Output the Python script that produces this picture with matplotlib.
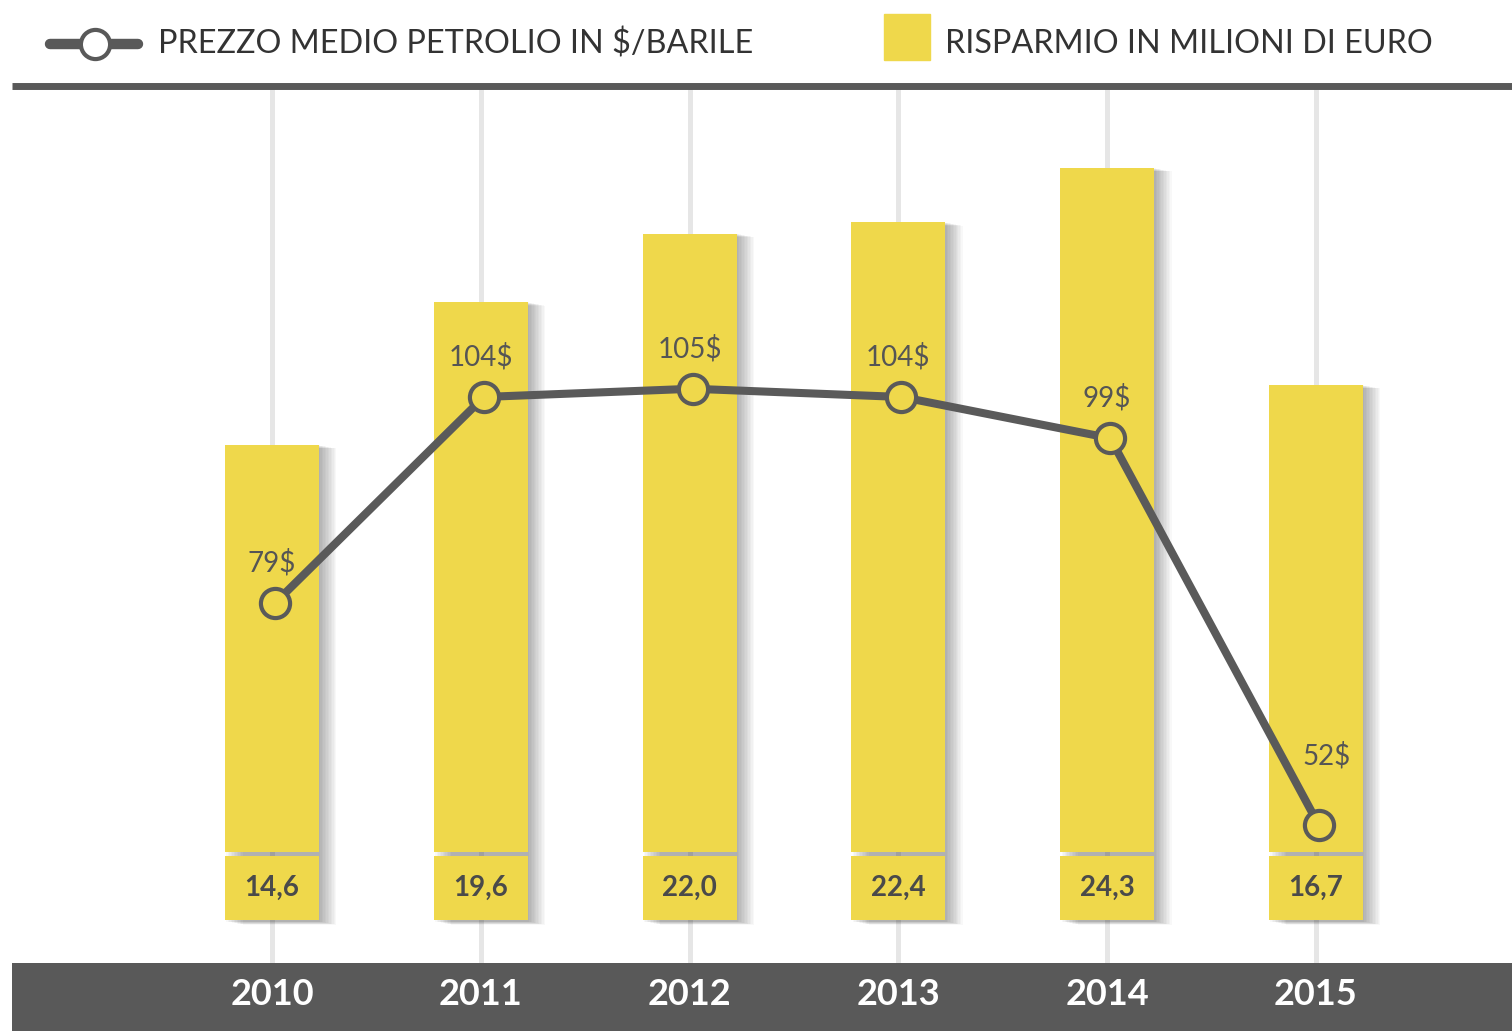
import numpy as np
import matplotlib.pyplot as plt
from matplotlib.lines import Line2D
from matplotlib.patches import Rectangle

# data
years = ['2010', '2011', '2012', '2013', '2014', '2015']
savings = [14.6, 19.6, 22.0, 22.4, 24.3, 16.7]
savings_labels = ['14,6', '19,6', '22,0', '22,4', '24,3', '16,7']
oil_price = [79, 104, 105, 104, 99, 52]

YELLOW = '#EFD84B'
DARK = '#595959'
LINE = '#5a5a5a'
TEXT = '#4a4a4a'

plt.rcParams['font.family'] = ['Lato', 'DejaVu Sans']

W, H = 1512, 1031
fig = plt.figure(figsize=(W / 100, H / 100), dpi=100)

# main axes: bars (savings)
ax = fig.add_axes([12 / W, (H - 963) / H, 1 - 12 / W, (963 - 86) / H])
x = np.arange(len(years))
ax.set_xlim(-1.245, 5.939)
ax.set_ylim(-3.54, 27.17)
for side in ['left', 'right', 'bottom']:
    ax.spines[side].set_visible(False)
ax.spines['top'].set_color(DARK)
ax.spines['top'].set_linewidth(5)
ax.spines['top'].set_capstyle('butt')
ax.set_xticks([])
ax.set_yticks([])

for xi in x:
    ax.axvline(xi, color='#e6e6e6', lw=3.6, zorder=1)

sav = np.array(savings)
box_bottom, box_top, bar_bottom = -2.03, 0.21, 0.35
bw = 0.45

# soft shadow to the right of the bars
for k in range(1, 13):
    off = k * 0.007
    ax.bar(x + off, sav - box_bottom + 0.05, bottom=box_bottom - 0.05 - k * 0.01,
           width=bw, color='black', alpha=0.028, lw=0, zorder=2)

ax.bar(x, sav - bar_bottom, bottom=bar_bottom, width=bw, color=YELLOW, lw=0, zorder=3)
ax.bar(x, box_top - box_bottom, bottom=box_bottom, width=bw, color=YELLOW, lw=0, zorder=3)

for xi, lab in zip(x, savings_labels):
    ax.text(xi, (box_top + box_bottom) / 2, lab, ha='center', va='center',
            fontsize=20, fontweight='bold', color=TEXT, zorder=4)

# twin axes: oil price line
ax2 = ax.twinx()
ax2.set_ylim(35.31, 141.74)
ax2.set_yticks([])
for side in ax2.spines:
    ax2.spines[side].set_visible(False)
ax2.plot(x + 0.015, oil_price, color=LINE, lw=5.8, marker='o', ms=21, mfc=YELLOW,
         mec=LINE, mew=3, zorder=5)
for xi, v in zip(x, oil_price):
    off = (8, 50) if v == 52 else (0, 29)
    ax2.annotate(f'{v}$', (xi, v), xytext=off, textcoords='offset points',
                 ha='center', va='center', fontsize=20, color='#555555')

# bottom band with years
band = fig.add_axes([12 / W, 0, 1 - 12 / W, (H - 963) / H], sharex=ax)
band.set_facecolor(DARK)
band.set_ylim(0, 1)
for side in band.spines:
    band.spines[side].set_visible(False)
band.tick_params(left=False, bottom=False, labelleft=False, labelbottom=False)
for xi, yr in zip(x, years):
    band.text(xi, 0.53, yr, ha='center', va='center', fontsize=26,
              fontweight='bold', color='white')

# legend
ly = 1 - 44 / H
fig.add_artist(Line2D([50 / W, 138 / W], [ly, ly], lw=7.5, color=DARK,
                      solid_capstyle='round'))
fig.add_artist(Line2D([95 / W], [ly], marker='o', ms=21, mfc='white',
                      mec=DARK, mew=3))
fig.text(158 / W, ly, 'PREZZO MEDIO PETROLIO IN $/BARILE', ha='left',
         va='center', fontsize=23.3, color='#333333')
fig.add_artist(Rectangle((884 / W, 1 - 60 / H), 46 / W, 46 / H,
                         color=YELLOW, transform=fig.transFigure))
fig.text(945 / W, ly, 'RISPARMIO IN MILIONI DI EURO', ha='left',
         va='center', fontsize=23.3, color='#333333')

fig.savefig('out.png', dpi=100)
